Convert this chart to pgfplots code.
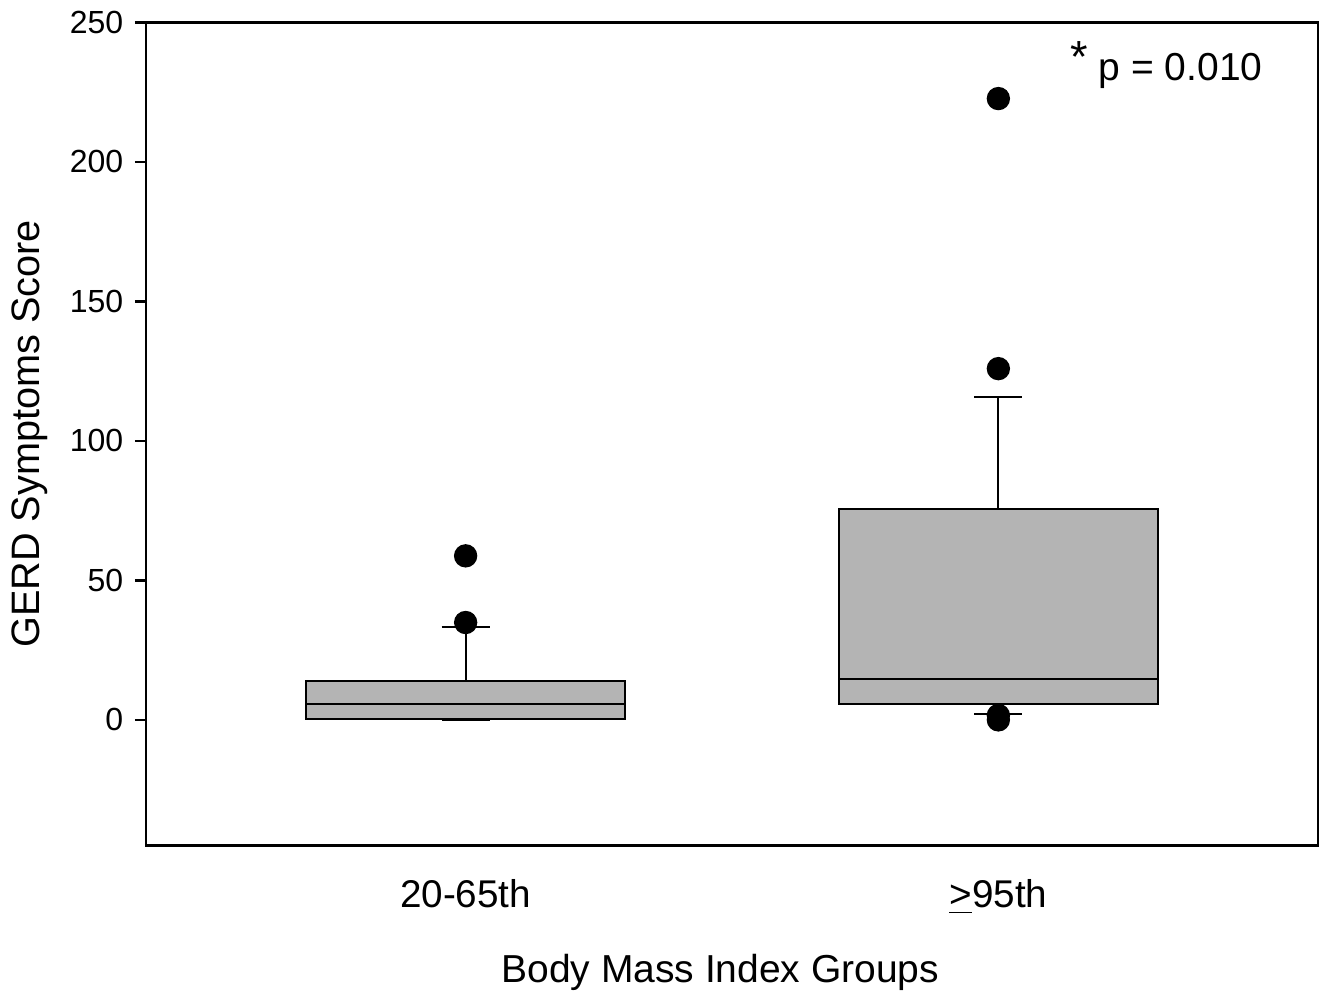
\documentclass[border=0pt]{standalone}
\usepackage{fontspec}
\setmainfont{Liberation Sans}
\usepackage{pgfplots}
\pgfplotsset{compat=1.18}
\definecolor{boxgray}{RGB}{180,180,180}

\begin{document}
\begin{tikzpicture}
\begin{axis}[
  scale only axis, width=351.6pt, height=246.9pt,
  xmin=0.4, xmax=2.6, ymin=-45, ymax=250,
  ytick={0,50,100,150,200,250},
  ytick pos=left, tick align=outside,
  major tick length=3.3pt,
  xtick={1,2},
  xticklabels={20-65th,\raisebox{2.6pt}{\underline{>}95th}},
  x tick style={draw=none},
  axis line style={line width=0.7pt},
  y tick style={line width=0.7pt, black},
  /pgf/number format/assume math mode=true,
  yticklabel style={font=\fontsize{9.6}{11}\selectfont},
  xticklabel style={font=\fontsize{11.6}{13}\selectfont, yshift=-3.5pt},
  xlabel={Body Mass Index Groups},
  ylabel={GERD Symptoms Score},
  xlabel style={font=\fontsize{11.7}{14}\selectfont, at={(axis description cs:0.49,0)}, anchor=north, yshift=-29pt},
  ylabel style={font=\fontsize{11.9}{14}\selectfont, at={(axis description cs:0,0.5)}, anchor=center, yshift=35pt},
]
% group 1: 20-65th
\addplot[black, line width=0.6pt] coordinates {(1,14) (1,33.2)};
\addplot[black, line width=0.6pt] coordinates {(0.955,33.2) (1.045,33.2)};
\addplot[black, line width=0.6pt] coordinates {(1,0.5) (1,0)};
\addplot[black, line width=0.6pt] coordinates {(0.955,0) (1.045,0)};
\addplot[black, line width=0.6pt, fill=boxgray] coordinates {(0.7,0.5) (1.3,0.5) (1.3,14) (0.7,14)} -- cycle;
\addplot[black, line width=0.6pt] coordinates {(0.7,5.6) (1.3,5.6)};
\addplot[only marks, mark=*, mark size=3.3pt, black] coordinates {(1,58.8) (1,34.9)};
% group 2: >=95th
\addplot[black, line width=0.6pt] coordinates {(2,75.6) (2,115.9)};
\addplot[black, line width=0.6pt] coordinates {(1.955,115.9) (2.045,115.9)};
\addplot[black, line width=0.6pt] coordinates {(2,5.8) (2,2.0)};
\addplot[black, line width=0.6pt] coordinates {(1.955,2.0) (2.045,2.0)};
\addplot[black, line width=0.6pt, fill=boxgray] coordinates {(1.7,5.8) (2.3,5.8) (2.3,75.6) (1.7,75.6)} -- cycle;
\addplot[black, line width=0.6pt] coordinates {(1.7,14.5) (2.3,14.5)};
\addplot[only marks, mark=*, mark size=3.3pt, black] coordinates {(2,222.7) (2,125.9) (2,1.6) (2,0)};
\node[font=\fontsize{11.7}{14}\selectfont, anchor=base west]
  at (axis cs:2.113,229.2) {\raisebox{2.5pt}{\fontsize{13.5}{14}\selectfont*} p = 0.010};
\end{axis}
\path (-43.8pt,-43.5pt) rectangle (354.6pt,253.5pt);
\end{tikzpicture}
\end{document}
